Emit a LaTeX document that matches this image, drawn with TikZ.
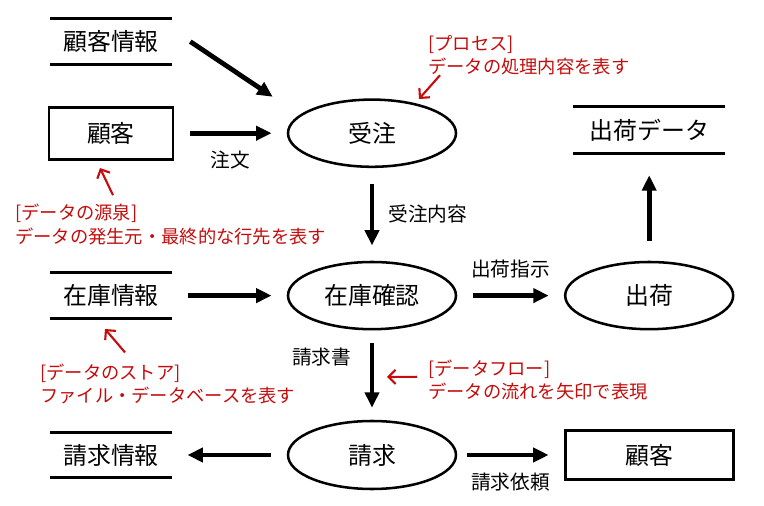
\documentclass[tikz,border=0pt]{standalone}
\usepackage{fontspec}
\setmainfont{Noto Sans CJK JP}
\usetikzlibrary{arrows.meta,positioning,shapes.geometric}
\definecolor{notered}{RGB}{196,12,12}

\begin{document}
\begin{tikzpicture}[
  >={Triangle[length=11pt,width=10pt]},
  proc/.style={ellipse, draw, line width=1.8pt, minimum width=4.2cm, minimum height=1.68cm, inner sep=0pt, font=\fontsize{17}{20}\selectfont},
  entity/.style={draw, rectangle, line width=2pt, inner sep=0pt, font=\fontsize{17}{20}\selectfont},
  storeline/.style={-, line width=2pt},
  store/.style={minimum width=3.05cm, minimum height=1.13cm, inner sep=0pt, font=\fontsize{17}{20}\selectfont,
    append after command={(\tikzlastnode.north west) edge[storeline] (\tikzlastnode.north east)
                          (\tikzlastnode.south west) edge[storeline] (\tikzlastnode.south east)}},
  flow/.style={->, line width=3.4pt, shorten <=0.4cm, shorten >=0.38cm},
  lbl/.style={font=\fontsize{14}{16}\selectfont, inner sep=0pt},
  note/.style={text=notered, align=left, inner sep=0pt, anchor=west, font=\fontsize{13}{16.5}\selectfont},
  notearrow/.style={-{Straight Barb[length=5pt,width=10pt]}, line width=1.5pt, draw=notered}
]
\useasboundingbox (0,0) rectangle (19.1,-12.65);

% Stores and entities
\node[store] (cinfo) at (2.775,-1.04) {顧客情報};
\node[entity, minimum width=3.1cm, minimum height=1.3cm] (cust1) at (2.775,-3.33) {顧客};
\node[store] (stock) at (2.775,-7.39) {在庫情報};
\node[store] (billinfo) at (2.775,-11.375) {請求情報};
\node[store, minimum width=3.78cm, minimum height=1.15cm] (shipdata) at (16.23,-3.25) {出荷データ};
\node[entity, minimum width=4.2cm, minimum height=1.23cm] (cust2) at (16.23,-11.375) {顧客};

% Processes
\node[proc] (recv) at (9.3,-3.33) {受注};
\node[proc] (check) at (9.3,-7.39) {在庫確認};
\node[proc] (ship) at (16.23,-7.39) {出荷};
\node[proc, minimum height=1.7cm] (bill) at (9.3,-11.375) {請求};

% Data flows
\draw[flow, shorten <=0pt, shorten >=0pt] ([xshift=0.45cm]cinfo.east) -- ([shift={(-0.35cm,0.91cm)}]recv.west);
\draw[flow] (cust1) -- node[lbl, below=11pt] {注文} (recv);
\draw[flow] (recv) -- node[lbl, right=10pt] {受注内容} (check);
\draw[flow] (stock) -- (check);
\draw[flow] (check) -- node[lbl, above=11pt] {出荷指示} (ship);
\draw[flow, shorten <=0.5cm, shorten >=0.55cm] (ship) -- (shipdata);
\draw[flow, shorten <=0.32cm, shorten >=0.3cm] (check) -- node[lbl, pos=0.3, left=13pt] {請求書} (bill);
\draw[flow] (bill) -- (billinfo);
\draw[flow, shorten <=0.25cm] (bill) -- node[lbl, below=11pt] {請求依頼} (cust2);

% Notes
\node[note] (procnote) at (10.7,-1.375) {[プロセス]\\データの処理内容を表す};
\node[note] (srcnote) at (0.375,-5.61) {[データの源泉]\\データの発生元・最終的な行先を表す};
\node[note] (storenote) at (1.0,-9.59) {[データのストア]\\ファイル・データベースを表す};
\node[note] (flownote) at (10.7,-9.51) {[データフロー]\\データの流れを矢印で表現};

\coordinate (procpt) at (10.475,-2.475);
\coordinate (srcpt) at (2.5,-4.2);
\coordinate (storept) at (2.625,-8.225);
\coordinate (flowpt) at (9.675,-9.425);

\draw[notearrow] ([xshift=0.3cm]procnote.south west) -- (procpt);
\draw[notearrow] ([shift={(2.45cm,0.22cm)}]srcnote.north west) -- (srcpt);
\draw[notearrow] ([shift={(2.125cm,0.27cm)}]storenote.north west) -- (storept);
\draw[notearrow] ([shift={(-0.275cm,0.09cm)}]flownote.west) -- (flowpt);

\end{tikzpicture}
\end{document}
